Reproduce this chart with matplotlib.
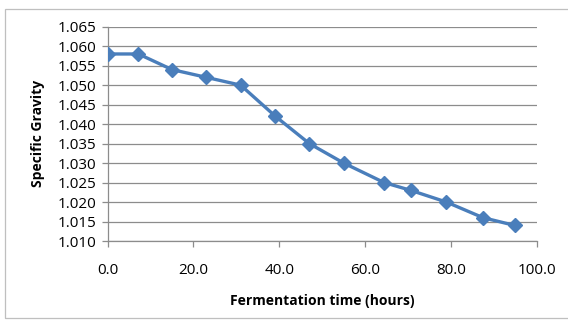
import matplotlib
matplotlib.use("Agg")
import matplotlib.pyplot as plt
from matplotlib.patches import Rectangle

hours = [0.0, 7.2, 15.0, 23.0, 31.0, 39.1, 47.0, 55.0, 64.4, 70.6, 78.9, 87.4, 94.8]
gravity = [1.058, 1.058, 1.054, 1.052, 1.050, 1.042, 1.035, 1.030, 1.025, 1.023, 1.020, 1.016, 1.014]
x_ticks = [0, 20, 40, 60, 80, 100]
y_ticks = [1.010, 1.015, 1.020, 1.025, 1.030, 1.035, 1.040, 1.045, 1.050, 1.055, 1.060, 1.065]

W, H = 568, 323
fig = plt.figure(figsize=(W / 100, H / 100), dpi=100)
fig.patch.set_facecolor("white")
fig.patches.append(Rectangle((5 / W, 1 - 318 / H), 570 / W, 309 / H, transform=fig.transFigure,
                             fill=False, edgecolor="#BFBFBF", linewidth=0.9))

left, right, top, bottom = 107.5, 537, 26.7, 241
ax = fig.add_axes([left / W, 1 - bottom / H, (right - left) / W, (bottom - top) / H])
ax.plot(hours, gravity, color="#4A7EBB", linewidth=2.4, marker="D", markersize=7,
        markerfacecolor="#4A7EBB", markeredgecolor="#4A7EBB", zorder=3)
ax.set_xlim(0, 100)
ax.set_ylim(1.010, 1.065)
ax.set_xticks(x_ticks)
ax.set_xticklabels([f"{v:.1f}" for v in x_ticks])
ax.set_yticks(y_ticks)
ax.set_yticklabels([f"{v:.3f}" for v in y_ticks])
ax.yaxis.grid(True, color="#8C8C8C", linewidth=0.9)
ax.set_axisbelow(True)
for s in ["top", "right"]:
    ax.spines[s].set_visible(False)
for s in ["left", "bottom"]:
    ax.spines[s].set_color("#8C8C8C")
    ax.spines[s].set_linewidth(0.9)
ax.tick_params(axis="both", direction="out", length=4, color="#8C8C8C", width=0.9,
               labelsize=11, labelcolor="black")
ax.tick_params(axis="x", pad=12)
ax.tick_params(axis="y", pad=4)
for lab in ax.get_xticklabels() + ax.get_yticklabels():
    lab.set_family("Open Sans")
ax.set_xlabel("Fermentation time (hours)", fontsize=10, fontweight="bold", family="Open Sans", labelpad=11)
ax.set_ylabel("Specific Gravity", fontsize=10, fontweight="bold", family="Open Sans", labelpad=9)

fig.savefig("out.png", dpi=100)
